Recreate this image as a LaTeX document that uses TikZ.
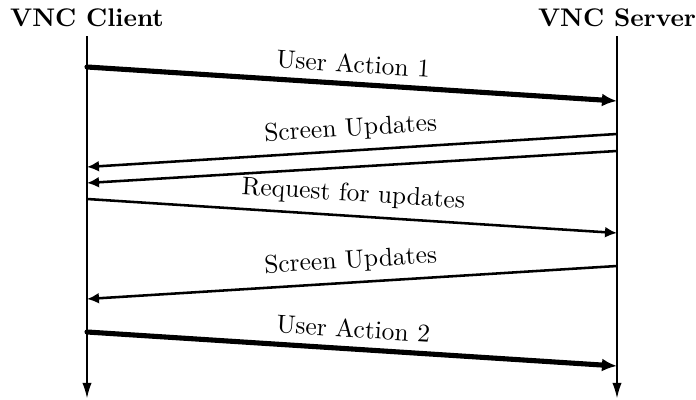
\documentclass[tikz,border=0pt]{standalone}
\usetikzlibrary{arrows.meta}
\begin{document}
\begin{tikzpicture}[x=0.0138cm,y=-0.0138cm,
  title node/.style={font=\bfseries},
  lifeline/.style={-{Latex[length=5.9pt,width=3.6pt]}},
  msg/.style={line width=1pt,-{Latex[length=4.7pt,width=4.3pt]}},
  action/.style={line width=2pt,line cap=round,-{Latex[length=5.9pt,width=5.1pt]}}]
  \useasboundingbox (0,0) rectangle (696,400);

  \node[title node] (client) at (87,18) {VNC Client};
  \node[title node] (server) at (617,18) {VNC Server};

  \coordinate (cend) at (87,398);
  \coordinate (send) at (617,398);

  \coordinate (c1) at (87,67);
  \coordinate (s1) at (617,101);
  \coordinate (s2) at (617,134);
  \coordinate (c2) at (87,167);
  \coordinate (s3) at (617,151);
  \coordinate (c3) at (87,183);
  \coordinate (c4) at (87,199);
  \coordinate (s4) at (617,233);
  \coordinate (s5) at (617,266);
  \coordinate (c5) at (87,299);
  \coordinate (c6) at (87,332);
  \coordinate (s6) at (617,366);

  \path
   (client) edge[lifeline] (cend)
   (server) edge[lifeline] (send);

  \path[every node/.style={above,sloped}]
   (c1) edge[action] node{User Action 1} (s1)
   (s2) edge[msg] node{Screen Updates} (c2)
   (s3) edge[msg] (c3)
   (c4) edge[msg] node{Request for updates} (s4)
   (s5) edge[msg] node{Screen Updates} (c5)
   (c6) edge[action] node{User Action 2} (s6);
\end{tikzpicture}
\end{document}
